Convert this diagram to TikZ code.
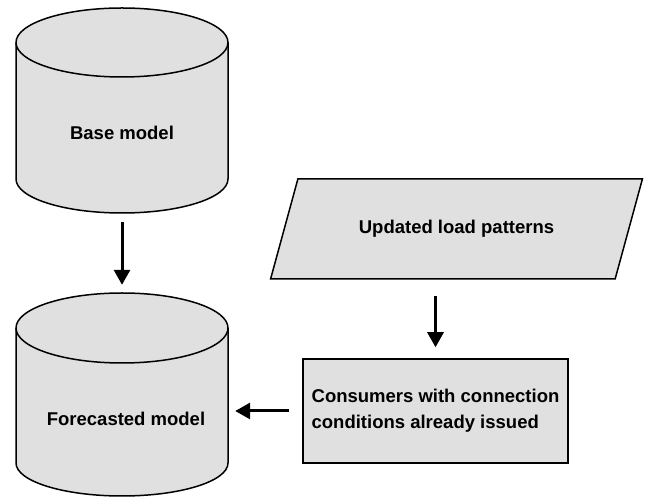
\documentclass[tikz,border=0pt]{standalone}
\usepackage{fontspec}
\setmainfont{Liberation Sans}
\usepackage{tikz}
\usetikzlibrary{shapes.geometric,arrows.meta}

\definecolor{boxfill}{RGB}{224,224,224}

\begin{document}
\begin{tikzpicture}[x=1pt, y=1pt,
		shapebox/.style={draw=black, fill=boxfill, line width=1.5pt},
		outline/.style={draw=black, line width=1.5pt},
		frame/.style={inner sep=0pt, minimum width=212pt},
		txt/.style={font=\fontsize{18.5}{26}\selectfont\bfseries},
		flow/.style={line width=3pt, -{Triangle[width=16pt, length=15pt]}}]
				\useasboundingbox (0, 0) rectangle (647, 497);

				% base model cylinder
				\draw[shapebox] (16, 454.5) -- (16, 318) arc[start angle=180, end angle=360, x radius=106, y radius=34] -- (228, 454.5) arc[start angle=0, end angle=180, x radius=106, y radius=34.5] -- cycle;
				\draw[outline] (16, 454.5) arc[start angle=180, end angle=360, x radius=106, y radius=34.5];
				\node[frame, minimum height=205pt] (base) at (122.00, 386.50) {};
				\node[txt] (baselabel) at (122.00, 364.00) {Base model};

				% forecasted model cylinder
				\draw[shapebox] (16, 169) -- (16, 34) arc[start angle=180, end angle=360, x radius=106, y radius=33] -- (228, 169) arc[start angle=0, end angle=180, x radius=106, y radius=35] -- cycle;
				\draw[outline] (16, 169) arc[start angle=180, end angle=360, x radius=106, y radius=35];
				\node[frame, minimum height=203pt] (forecast) at (122.00, 102.50) {};
				\node[txt] (forecastlabel) at (126.00, 78.00) {Forecasted model};

				\node[shapebox, trapezium, trapezium left angle=54, trapezium right angle=126, trapezium stretches=true, minimum width=373pt, minimum height=100pt, txt] (loads) at (456.50, 268.00) {Updated load patterns};
				\node[shapebox, rectangle, minimum width=265pt, minimum height=104pt, align=left, txt] (consumers) at (435.50, 86.00) {Consumers with connection\\conditions already issued};

				\draw[flow, shorten <=9pt, shorten >=8pt] (base.south) -- (forecast.north);
				\draw[flow, shorten <=16pt, shorten >=11pt] (consumers.north |- loads.south) -- (consumers.north);
				\draw[flow, shorten <=13pt, shorten >=7pt] (consumers.west) -- (forecast.east |- consumers.west);
			\end{tikzpicture}
\end{document}
